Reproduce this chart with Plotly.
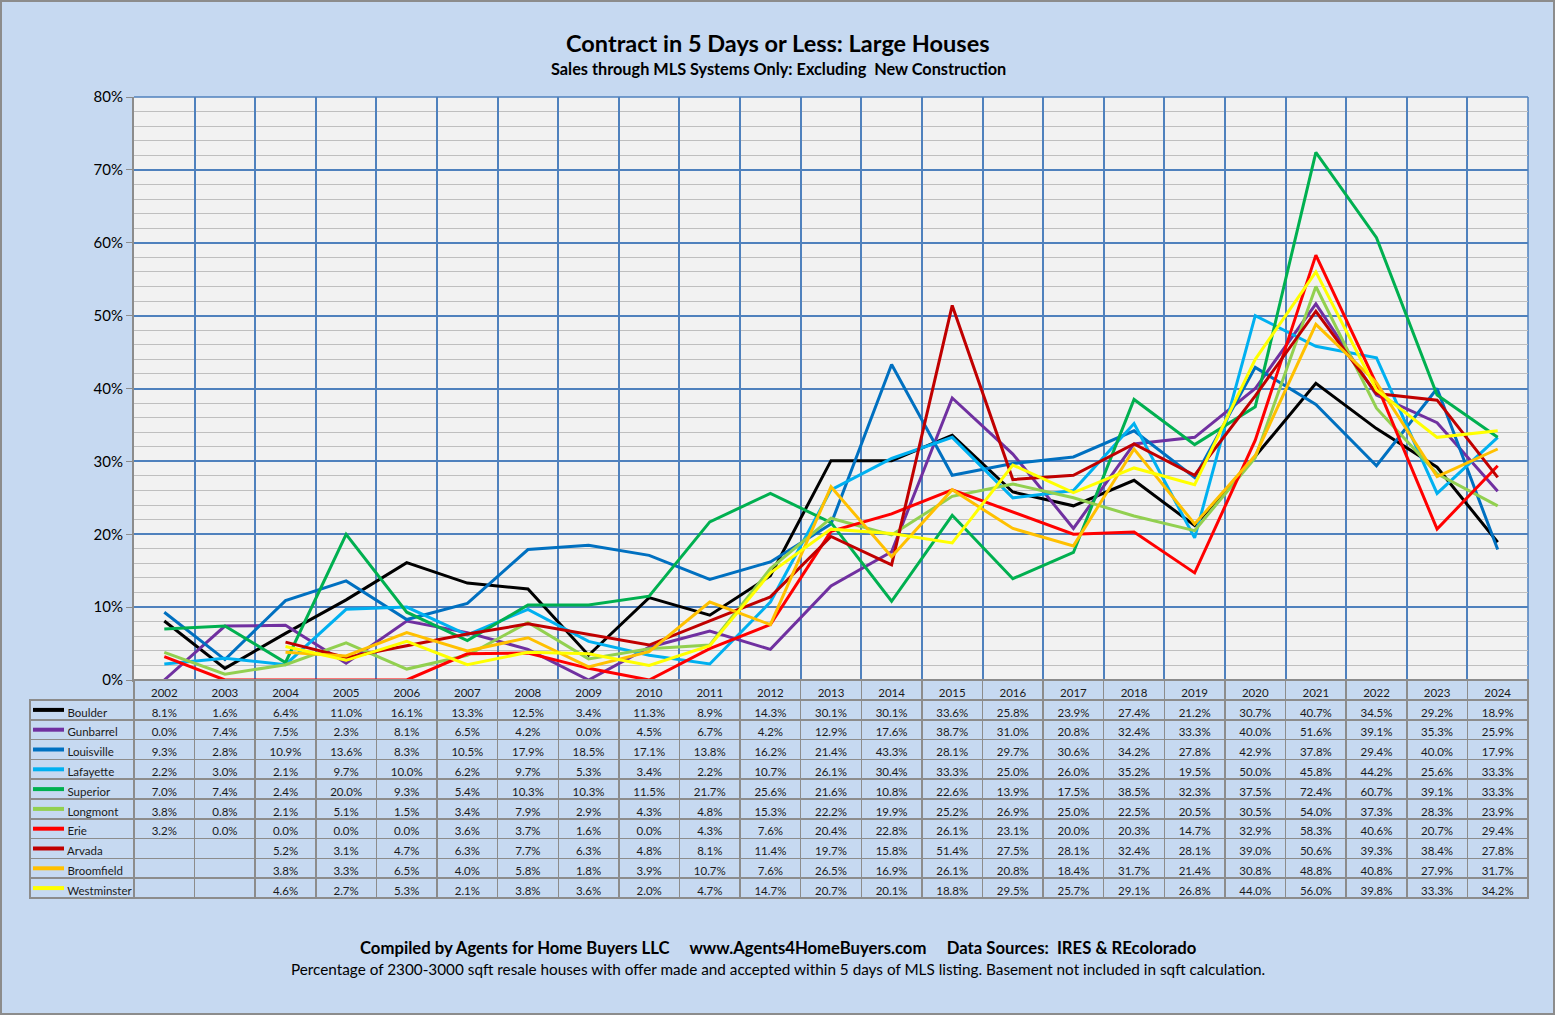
import plotly.graph_objects as go

W, H = 1555, 1015

years = list(range(2002, 2025))

boulder = [8.1, 1.6, 6.4, 11.0, 16.1, 13.3, 12.5, 3.4, 11.3, 8.9, 14.3, 30.1, 30.1, 33.6, 25.8, 23.9, 27.4, 21.2, 30.7, 40.7, 34.5, 29.2, 18.9]
gunbarrel = [0.0, 7.4, 7.5, 2.3, 8.1, 6.5, 4.2, 0.0, 4.5, 6.7, 4.2, 12.9, 17.6, 38.7, 31.0, 20.8, 32.4, 33.3, 40.0, 51.6, 39.1, 35.3, 25.9]
louisville = [9.3, 2.8, 10.9, 13.6, 8.3, 10.5, 17.9, 18.5, 17.1, 13.8, 16.2, 21.4, 43.3, 28.1, 29.7, 30.6, 34.2, 27.8, 42.9, 37.8, 29.4, 40.0, 17.9]
lafayette = [2.2, 3.0, 2.1, 9.7, 10.0, 6.2, 9.7, 5.3, 3.4, 2.2, 10.7, 26.1, 30.4, 33.3, 25.0, 26.0, 35.2, 19.5, 50.0, 45.8, 44.2, 25.6, 33.3]
superior = [7.0, 7.4, 2.4, 20.0, 9.3, 5.4, 10.3, 10.3, 11.5, 21.7, 25.6, 21.6, 10.8, 22.6, 13.9, 17.5, 38.5, 32.3, 37.5, 72.4, 60.7, 39.1, 33.3]
longmont = [3.8, 0.8, 2.1, 5.1, 1.5, 3.4, 7.9, 2.9, 4.3, 4.8, 15.3, 22.2, 19.9, 25.2, 26.9, 25.0, 22.5, 20.5, 30.5, 54.0, 37.3, 28.3, 23.9]
erie = [3.2, 0.0, 0.0, 0.0, 0.0, 3.6, 3.7, 1.6, 0.0, 4.3, 7.6, 20.4, 22.8, 26.1, 23.1, 20.0, 20.3, 14.7, 32.9, 58.3, 40.6, 20.7, 29.4]
arvada = [None, None, 5.2, 3.1, 4.7, 6.3, 7.7, 6.3, 4.8, 8.1, 11.4, 19.7, 15.8, 51.4, 27.5, 28.1, 32.4, 28.1, 39.0, 50.6, 39.3, 38.4, 27.8]
broomfield = [None, None, 3.8, 3.3, 6.5, 4.0, 5.8, 1.8, 3.9, 10.7, 7.6, 26.5, 16.9, 26.1, 20.8, 18.4, 31.7, 21.4, 30.8, 48.8, 40.8, 27.9, 31.7]
westminster = [None, None, 4.6, 2.7, 5.3, 2.1, 3.8, 3.6, 2.0, 4.7, 14.7, 20.7, 20.1, 18.8, 29.5, 25.7, 29.1, 26.8, 44.0, 56.0, 39.8, 33.3, 34.2]

cities = ["Boulder", "Gunbarrel", "Louisville", "Lafayette", "Superior",
          "Longmont", "Erie", "Arvada", "Broomfield", "Westminster"]
series = [boulder, gunbarrel, louisville, lafayette, superior,
          longmont, erie, arvada, broomfield, westminster]
colors = ["#000000", "#7030a0", "#0070c0", "#00b0f0", "#00b050",
          "#92d050", "#ff0000", "#c00000", "#ffc000", "#ffff00"]

BG = "#c6d9f1"
FONT = "Lato"
CLEAR = "rgba(0,0,0,0)"
GRID = "#4f81bd"

# pixel geometry of the Excel layout
px_l, px_r = 134, 1528
px_t, px_b = 97, 680
tab_l, tab_b = 30, 898
hdr_h = 20
row_h = (tab_b - px_b - hdr_h) / len(cities)

fig = go.Figure()

for name, vals, c in zip(cities, series, colors):
    fig.add_trace(go.Scatter(
        x=years, y=[v / 100 if v is not None else None for v in vals],
        mode="lines", name=name, line=dict(color=c, width=3),
        hoverinfo="x+y+name", showlegend=False))

# data table beneath the plot
col_w = (px_r - px_l) / len(years)
label_col = ["\u00a0" * 10 + n for n in cities]
value_cols = []
for i in range(len(years)):
    value_cols.append([f"{s[i]:.1f}%" if s[i] is not None else "" for s in series])

fig.add_trace(go.Table(
    domain=dict(x=[tab_l / W, px_r / W], y=[1 - (tab_b + 2) / H, 1 - px_b / H]),
    columnwidth=[px_l - tab_l] + [col_w] * len(years),
    header=dict(values=[""] + [str(y) for y in years],
                fill_color=[CLEAR] + [BG] * len(years),
                line_color=[CLEAR] + ["#8c8c8c"] * len(years),
                line_width=1.5, height=hdr_h,
                font=dict(family=FONT, size=11.5, color="#1a1a1a"), align="center"),
    cells=dict(values=[label_col] + value_cols,
               fill_color=BG, line_color="#8c8c8c", line_width=1.5, height=row_h,
               font=dict(family=FONT, size=11.5, color="#1a1a1a"),
               align=["left"] + ["center"] * len(years)),
))

shapes = []
# legend keys in the label column
for i, c in enumerate(colors):
    yc = px_b + hdr_h + row_h * (i + 0.5)
    shapes.append(dict(type="line", xref="paper", yref="paper",
                       x0=33 / W, x1=64 / W, y0=1 - yc / H, y1=1 - yc / H,
                       line=dict(color=c, width=4)))
# top and right edge of the plot area
shapes.append(dict(type="line", xref="paper", yref="paper",
                   x0=px_l / W, x1=px_r / W, y0=1 - px_t / H, y1=1 - px_t / H,
                   line=dict(color=GRID, width=1.5), layer="below"))
shapes.append(dict(type="line", xref="paper", yref="paper",
                   x0=px_r / W, x1=px_r / W, y0=1 - px_b / H, y1=1 - px_t / H,
                   line=dict(color=GRID, width=1.5), layer="below"))
# outer chart border
shapes.append(dict(type="rect", xref="paper", yref="paper",
                   x0=1 / W, x1=1 - 1 / W, y0=1 / H, y1=1 - 1 / H,
                   line=dict(color="#8c8c8c", width=2), layer="below"))

cx = 778 / W
annotations = [
    dict(text="<b>Contract in 5 Days or Less: Large Houses</b>", x=cx, y=1 - 43 / H,
         font=dict(size=23.5, family=FONT, color="#000")),
    dict(text="<b>Sales through MLS Systems Only: Excluding  New Construction</b>", x=cx, y=1 - 68 / H,
         font=dict(size=16.3, family=FONT, color="#000")),
    dict(text="<b>Compiled by Agents for Home Buyers LLC     www.Agents4HomeBuyers.com     Data Sources:  IRES & REcolorado</b>",
         x=cx, y=1 - 948 / H, font=dict(size=16.7, family=FONT, color="#000")),
    dict(text="Percentage of 2300-3000 sqft resale houses with offer made and accepted within 5 days of MLS listing. Basement not included in sqft calculation.",
         x=cx, y=1 - 969 / H, font=dict(size=15.3, family=FONT, color="#000")),
]
for a in annotations:
    a.update(xref="paper", yref="paper", showarrow=False, xanchor="center", yanchor="middle")

fig.update_layout(
    width=W, height=H,
    margin=dict(l=0, r=0, t=0, b=0, pad=0),
    paper_bgcolor=BG, plot_bgcolor="#f2f2f2",
    font=dict(family=FONT, color="#000"),
    shapes=shapes, annotations=annotations,
    xaxis=dict(domain=[px_l / W, px_r / W], range=[2001.5, 2024.5],
               tick0=2001.5, dtick=1, showticklabels=False, automargin=False,
               showgrid=True, gridcolor=GRID, gridwidth=1.5,
               zeroline=False, showline=True, linecolor="#8c8c8c", linewidth=1.5,
               mirror=False, fixedrange=True),
    yaxis=dict(domain=[1 - px_b / H, 1 - px_t / H], range=[0, 0.8],
               dtick=0.1, tickformat=".0%", automargin=False,
               tickfont=dict(size=15, family=FONT, color="#000"),
               ticks="outside", ticklen=6, tickcolor="#8c8c8c",
               showgrid=True, gridcolor=GRID, gridwidth=1.5,
               minor=dict(dtick=0.02, showgrid=True, gridcolor="#bfbfbf", gridwidth=1.2),
               zeroline=False, showline=True, linecolor="#8c8c8c", linewidth=2,
               fixedrange=True),
)

# page margin off so the figure fills the window exactly
fig.write_html("out.html", config={"displayModeBar": False},
               post_script="document.body.style.margin='0';")
